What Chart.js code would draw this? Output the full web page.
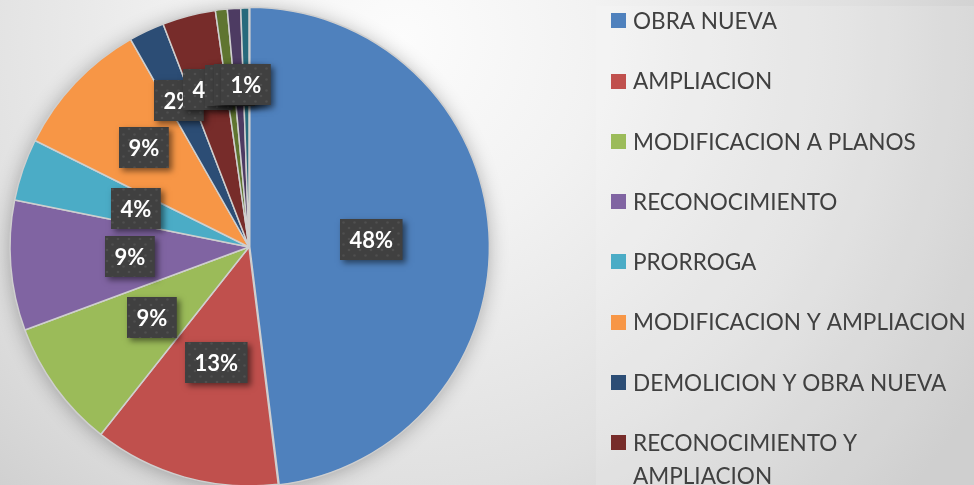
<!DOCTYPE html>
<html><head><meta charset="utf-8">
<script src="https://cdn.jsdelivr.net/npm/chart.js@4/dist/chart.umd.min.js"></script>
<style>html,body{margin:0;padding:0;overflow:hidden;width:974px;height:485px;background:#e6e6e6}canvas{display:block}</style>
</head><body>
<canvas id="c" width="974" height="500"></canvas>
<script>
const categories = ['OBRA NUEVA','AMPLIACION','MODIFICACION A PLANOS','RECONOCIMIENTO','PRORROGA','MODIFICACION Y AMPLIACION','DEMOLICION Y OBRA NUEVA','RECONOCIMIENTO Y AMPLIACION','DEMOLICION','CERRAMIENTO','ADECUACION'];
const values = [48.05, 12.6, 8.7, 8.8, 4.2, 9.4, 2.4, 3.6, 0.8, 0.9, 0.55];
const colors = ['#4F81BD','#C0504D','#9BBB59','#8064A2','#4BACC6','#F79646','#2C4D75','#772C2A','#5F7530','#4D3B62','#276A7C'];

const FONT = 'Lato, "Open Sans", sans-serif';

const bgPlugin = {
  id: 'bg',
  beforeDraw(chart) {
    const ctx = chart.ctx, W = chart.width, H = chart.height;
    ctx.save();
    const g = ctx.createRadialGradient(400, 40, 0, 400, 40, 680);
    g.addColorStop(0, '#fcfcfc');
    g.addColorStop(0.29, '#f2f2f2');
    g.addColorStop(0.66, '#e0e0e0');
    g.addColorStop(1, '#c8c8c8');
    ctx.fillStyle = g;
    ctx.fillRect(0, 0, W, H);
    ctx.fillStyle = 'rgba(255,255,255,0.14)';
    ctx.fillRect(596, 6, W - 596, H - 6);
    ctx.restore();
  }
};

const shadowPlugin = {
  id: 'pieShadow',
  beforeDatasetsDraw(chart) {
    const arc = chart.getDatasetMeta(0).data[0];
    if (!arc) return;
    const ctx = chart.ctx;
    ctx.save();
    ctx.shadowColor = 'rgba(0,0,0,0.3)';
    ctx.shadowBlur = 20;
    ctx.shadowOffsetY = 2;
    ctx.fillStyle = '#c9c9c9';
    ctx.beginPath();
    ctx.arc(arc.x, arc.y, arc.outerRadius, 0, Math.PI * 2);
    ctx.fill();
    ctx.restore();
  }
};

function makePattern(ctx) {
  const c = document.createElement('canvas');
  c.width = 11; c.height = 11;
  const p = c.getContext('2d');
  p.fillStyle = 'rgba(255,255,255,0.08)';
  p.beginPath(); p.arc(2.5, 2.5, 1.3, 0, Math.PI * 2); p.fill();
  p.beginPath(); p.arc(8, 8, 1.3, 0, Math.PI * 2); p.fill();
  return ctx.createPattern(c, 'repeat');
}

const labelPlugin = {
  id: 'pctLabels',
  afterDatasetsDraw(chart) {
    const ctx = chart.ctx;
    const meta = chart.getDatasetMeta(0);
    const total = values.reduce((a, b) => a + b, 0);
    const pat = makePattern(ctx);
    ctx.save();
    ctx.font = 'bold 22px ' + FONT;
    meta.data.forEach((arc, i) => {
      const mid = (arc.startAngle + arc.endAngle) / 2;
      let deg = (mid * 180 / Math.PI + 90) % 360;
      if (deg < 0) deg += 360;
      let frac = 0.5;
      if (deg > 290) frac = Math.min(0.68, 0.5 + (deg - 290) / 40 * 0.18);
      const off = arc.options.offset || 0;
      const r = arc.outerRadius * frac + off;
      const lx = arc.x + Math.cos(mid) * r;
      const ly = arc.y + Math.sin(mid) * r;
      const txt = Math.round(values[i] / total * 100) + '%';
      const tw = ctx.measureText(txt).width;
      const bw = tw + 19, bh = 41;
      const bx = Math.round(lx - bw / 2), by = Math.round(ly - bh / 2);
      ctx.save();
      ctx.shadowColor = 'rgba(0,0,0,0.5)';
      ctx.shadowBlur = 6;
      ctx.shadowOffsetX = 3;
      ctx.shadowOffsetY = 3;
      ctx.fillStyle = '#404040';
      ctx.fillRect(bx, by, bw, bh);
      ctx.restore();
      ctx.fillStyle = pat;
      ctx.fillRect(bx, by, bw, bh);
      ctx.fillStyle = '#ffffff';
      ctx.textAlign = 'center';
      ctx.textBaseline = 'alphabetic';
      ctx.fillText(txt, bx + bw / 2, by + bh / 2 + 8);
    });
    ctx.restore();
  }
};

const legendPlugin = {
  id: 'sideLegend',
  afterDraw(chart) {
    const ctx = chart.ctx;
    ctx.save();
    ctx.font = '100px ' + FONT;
    const ref = ctx.measureText('MODIFICACION Y AMPLIACION').width;
    const fs = 100 * 333 / ref;
    ctx.font = fs + 'px ' + FONT;
    const maxW = 338;
    let yc = 20.8;
    categories.forEach((c, i) => {
      const words = c.split(' ');
      const lines = [];
      let cur = '';
      words.forEach(w => {
        const t = cur ? cur + ' ' + w : w;
        if (ctx.measureText(t).width > maxW && cur) { lines.push(cur); cur = w; }
        else cur = t;
      });
      if (cur) lines.push(cur);
      ctx.fillStyle = colors[i];
      ctx.fillRect(611, Math.round(yc - 7.5), 15, 15);
      ctx.fillStyle = '#404040';
      ctx.textAlign = 'left';
      ctx.textBaseline = 'alphabetic';
      lines.forEach((ln, j) => ctx.fillText(ln, 633, yc + 8.3 + j * 33));
      yc += 60.24 + (lines.length - 1) * 33;
    });
    ctx.restore();
  }
};

new Chart(document.getElementById('c'), {
  type: 'pie',
  data: {
    labels: categories,
    datasets: [{
      data: values,
      backgroundColor: colors,
      borderColor: '#cfcfcf',
      borderWidth: 1.5,
      radius: 239,
      offset: (c) => c.dataIndex === 0 ? 3 : 0
    }]
  },
  options: {
    responsive: false,
    animation: false,
    layout: { padding: { left: 0, right: 476, top: 0, bottom: 6 } },
    plugins: { legend: { display: false }, tooltip: { enabled: false } }
  },
  plugins: [bgPlugin, shadowPlugin, labelPlugin, legendPlugin]
});
</script>
</body></html>
